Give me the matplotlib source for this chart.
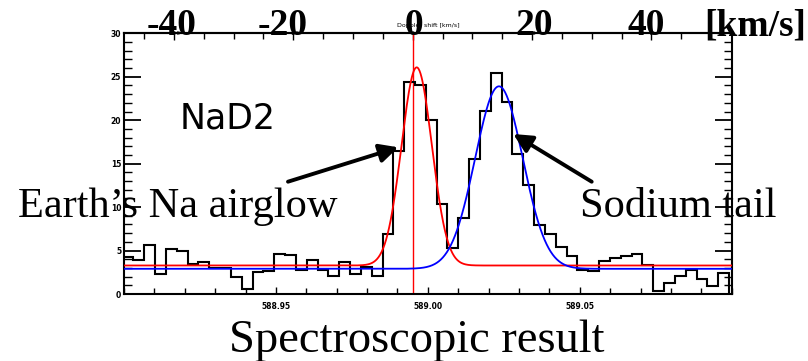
import numpy as np
import matplotlib
matplotlib.use("Agg")
import matplotlib.pyplot as plt
from matplotlib.ticker import MultipleLocator, FixedLocator

W, H = 808, 361

# ---- data ----
bin_start = 588.89954        # left edge of first histogram bin [nm]
bin_width = 0.003564         # histogram bin width [nm]
counts = [4.3, 3.86, 5.6, 2.25, 5.2, 4.9, 3.4, 3.7, 2.95, 2.95,
          1.9, 0.6, 2.5, 2.6, 4.6, 4.45, 2.8, 3.86, 2.8, 2.1,
          3.7, 2.3, 3.1, 2.05, 6.85, 16.4, 24.4, 24.1, 20.0, 10.4,
          5.3, 8.7, 15.5, 21.1, 25.4, 22.1, 16.1, 12.6, 7.9, 6.9,
          5.4, 4.4, 2.8, 2.7, 3.8, 4.2, 4.4, 4.6, 3.3, 0.3,
          1.3, 2.1, 2.8, 1.75, 0.9, 2.36]

# Gaussian fit parameters: baseline, amplitude, centre [nm], sigma [nm]
airglow_fit = dict(base=3.28, amp=22.8, center=588.99633, sigma=0.00499)
tail_fit = dict(base=2.9, amp=21.0, center=589.0234, sigma=0.00783)

lambda0 = 588.995          # Na D2 rest wavelength [nm]
c_kms = 299792.458

wl_ticks = [588.95, 589.00, 589.05]
wl_labels = ["588.95", "589.00", "589.05"]
v_ticks = [-40, -20, 0, 20, 40]
y_ticks = [0, 5, 10, 15, 20, 25, 30]

big_top_labels = ["-40", "-20", "0", "20", "40", "[km/s]"]

# ---- figure ----
fig = plt.figure(figsize=(W / 100, H / 100), dpi=100)
L, R, T, B = 124, 731.7, 33.3, 294
ax = fig.add_axes([L / W, 1 - B / H, (R - L) / W, (B - T) / H])
ax.set_xlim(588.90, 589.10)
ax.set_ylim(0, 30)

edges = bin_start + bin_width * np.arange(len(counts) + 1)
ax.stairs(counts, edges, color="black", lw=1.5, zorder=3)

xx = np.linspace(588.90, 589.10, 1200)
def gauss(p, x):
    return p["base"] + p["amp"] * np.exp(-0.5 * ((x - p["center"]) / p["sigma"]) ** 2)
ax.plot(xx, gauss(airglow_fit, xx), color="#ff0000", lw=1.3, zorder=4)
ax.plot(xx, gauss(tail_fit, xx), color="#0000ff", lw=1.3, zorder=4)
ax.axvline(lambda0, color="#ff0000", lw=1.0, zorder=2)

for s in ax.spines.values():
    s.set_linewidth(1.5)

ax.xaxis.set_major_locator(FixedLocator(wl_ticks))
ax.set_xticklabels(wl_labels)
ax.xaxis.set_minor_locator(MultipleLocator(0.01))
ax.yaxis.set_major_locator(FixedLocator(y_ticks))
ax.yaxis.set_minor_locator(MultipleLocator(1))
ax.tick_params(axis="y", which="major", direction="in", length=12, width=1.3,
               right=True, labelsize=5.5, pad=2)
ax.tick_params(axis="y", which="minor", direction="in", length=6, width=1.0, right=True)
ax.tick_params(axis="x", which="major", direction="in", length=5, width=1.0,
               labelsize=5.5, pad=6)
ax.tick_params(axis="x", which="minor", direction="in", length=4, width=1.0)
for lab in ax.get_xticklabels() + ax.get_yticklabels():
    lab.set_fontweight("bold")

secax = ax.secondary_xaxis(
    "top",
    functions=(lambda w: (w - lambda0) / lambda0 * c_kms,
               lambda v: lambda0 * (1 + v / c_kms)))
secax.xaxis.set_major_locator(FixedLocator(v_ticks))
secax.xaxis.set_minor_locator(MultipleLocator(5))
secax.tick_params(axis="x", which="major", direction="in", length=5, width=1.0,
                  labelsize=4.5, pad=-2)
secax.tick_params(axis="x", which="minor", direction="in", length=4, width=1.0)
secax.set_xlabel("Doppler shift [km/s]", fontsize=4.5, labelpad=1)
secax.spines["top"].set_linewidth(1.5)

# ---- big overlay text ----
def px(x, y):
    return x / W, 1 - y / H

serif = "Liberation Serif"
top_x = [171.7, 283, 414, 534, 646, 755]
for lab, x in zip(big_top_labels, top_x):
    fig.text(*px(x, 35), lab, ha="center", va="baseline", family=serif,
             fontweight="bold", fontsize=27)

fig.text(*px(180, 128.3), "NaD2", ha="left", va="baseline",
         family="DejaVu Sans", fontsize=25)
fig.text(*px(18, 216.7), "Earth\u2019s Na airglow", ha="left", va="baseline",
         family=serif, fontsize=30.5)
fig.text(*px(580, 216.7), "Sodium tail", ha="left", va="baseline",
         family=serif, fontsize=30.5)
fig.text(*px(229, 352), "Spectroscopic result", ha="left", va="baseline",
         family=serif, fontsize=33.5)

arrow = dict(arrowstyle="-|>", lw=2.8, color="black", mutation_scale=28,
             shrinkA=0, shrinkB=0)
ax.annotate("", xy=px(398.3, 147.3), xytext=px(288, 181.7),
            xycoords="figure fraction", textcoords="figure fraction",
            arrowprops=arrow, zorder=6)
ax.annotate("", xy=px(513.3, 134), xytext=px(591.7, 181.7),
            xycoords="figure fraction", textcoords="figure fraction",
            arrowprops=arrow, zorder=6)

fig.savefig("out.png", dpi=100)
